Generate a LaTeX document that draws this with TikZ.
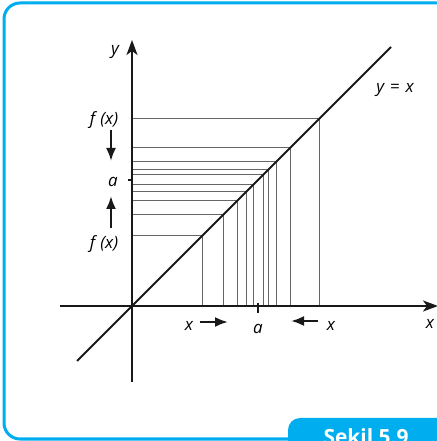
\documentclass[tikz,border=0pt]{standalone}
\usepackage{fontspec}
\setmainfont{Open Sans}
\usetikzlibrary{arrows.meta,positioning}
\definecolor{framecyan}{RGB}{0,174,239}
\tikzset{
  axis/.style={line width=2bp, black!90, -{Stealth[length=15bp, width=11bp, inset=4bp]}},
  diag/.style={line width=2bp, black!90},
  web/.style={line width=1bp, black!60},
  tick/.style={line width=2bp, black!90},
  move/.style={line width=2.2bp, black!90, -{Latex[length=13bp, width=10bp]}},
  lbl/.style={font=\fontsize{17}{19}\selectfont\itshape, inner sep=0pt},
  flbl/.style={font=\fontsize{17}{19}\selectfont\itshape, inner sep=0pt},
  tabtxt/.style={font=\fontsize{21}{24}\selectfont\bfseries, text=white, inner sep=0pt},
}
\begin{document}
\begin{tikzpicture}[x=1bp, y=1bp]
\clip (0,0) rectangle (437,441);

% ================= FRAME =================
\draw[framecyan, line width=3bp, rounded corners=16bp] (4,2) rectangle (480,438);
\fill[framecyan, rounded corners=12bp] (288,-30) rectangle (480,23);
\node[tabtxt, anchor=base] (tab) at (366,-3) {Şekil 5.9};

\begin{scope}[shift={(132,135)}]
\coordinate (O) at (0,0);
\coordinate (A) at (126,126);

% ================= COBWEB =================
\foreach \t in {70,91,105,114,121,131,136,144,158,187}{
  \draw[web] (\t,0) -- (\t,\t) -- (0,\t);
}

% ================= AXES =================
\coordinate (xL) at (-72,0);
\coordinate (xR) at (306,0);
\coordinate (yB) at (0,-76);
\coordinate (yT) at (0,266);
\draw[axis] (xL) -- (xR);
\draw[axis] (yB) -- (yT);
\draw[tick] (-4,126) -- (1,126);
\draw[tick] (126,3) -- (126,-7);

% ================= y = x =================
\coordinate (dL) at (-55,-55);
\coordinate (dR) at (259,259);
\draw[diag] (dL) -- (dR);

% ================= LABELS =================
\node[lbl] (ylab) at (-17,254) {y};
\node[lbl] (diaglab) at (263,216) {y\hspace{0.35em}=\hspace{0.35em}x};
\node[lbl] (xlab) at (298,-18) {x};
\node[flbl] (ftop) at (-28,186) {f\hspace{0.3em}(x)};
\node[flbl] (fbot) at (-28,62) {f\hspace{0.3em}(x)};
\node[lbl] (aylab) at (-19,124) {a};
\node[lbl] (axlab) at (126,-23) {a};
\node[lbl] (xleft) at (57,-20) {x};
\node[lbl] (xright) at (199,-20) {x};

% ================= ARROWS =================
\coordinate (dnS) at (-21,176);
\coordinate (dnE) at (-21,145);
\coordinate (upS) at (-21,78);
\coordinate (upE) at (-21,110);
\coordinate (rtS) at (68,-16);
\coordinate (rtE) at (96,-16);
\coordinate (ltS) at (186,-15);
\coordinate (ltE) at (159,-15);
\draw[move] (dnS) -- (dnE);
\draw[move] (upS) -- (upE);
\draw[move] (rtS) -- (rtE);
\draw[move] (ltS) -- (ltE);
\end{scope}
\end{tikzpicture}
\end{document}
